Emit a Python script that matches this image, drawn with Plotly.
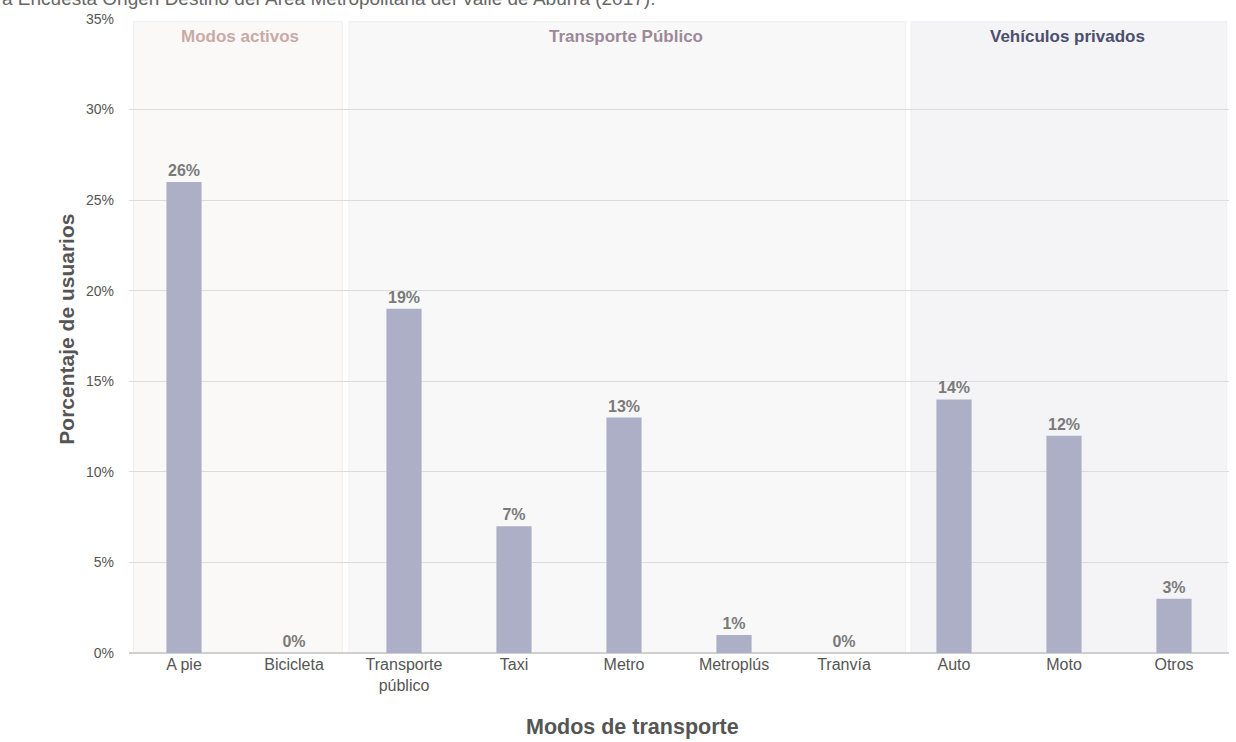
import plotly.graph_objects as go

categories = ["A pie", "Bicicleta", "Transporte<br>público", "Taxi", "Metro",
              "Metroplús", "Tranvía", "Auto", "Moto", "Otros"]
values = [26, 0, 19, 7, 13, 1, 0, 14, 12, 3]
value_labels = [f"{v}%" for v in values]
y_ticks = [0, 5, 10, 15, 20, 25, 30, 35]
y_tick_labels = [f"{t}%" for t in y_ticks]

groups = ["Modos activos", "Transporte Público", "Vehículos privados"]
group_spans = [(-0.46, 1.44), (1.5, 6.56), (6.61, 9.48)]
group_fill = ["#fbf8f8", "#f8f8f9", "#f4f4f7"]
group_text_color = ["#c9aaa7", "#9d8998", "#4b4f6d"]

title_text = "a Encuesta Origen Destino del Área Metropolitana del Valle de Aburrá (2017)."

narrow = "Liberation Sans Narrow, Arial Narrow, Liberation Sans, Arial, sans-serif"
wide = "Liberation Sans, Arial, sans-serif"

x_idx = list(range(len(categories)))

fig = go.Figure()
fig.add_trace(go.Bar(
    x=x_idx, y=values, width=0.32,
    marker=dict(color="#adafc6", line=dict(width=0)),
    text=value_labels, textposition="outside", cliponaxis=False,
    textfont=dict(family=narrow, size=16, color="#7a7a7a", weight="bold"),
    hoverinfo="skip",
))

shapes = []
for (x0, x1), fc in zip(group_spans, group_fill):
    shapes.append(dict(type="rect", xref="x", yref="y", x0=x0, x1=x1, y0=0, y1=34.85,
                       fillcolor=fc, line=dict(color="#eeeef1", width=1), layer="below"))

annotations = []
label_pos = [(-0.5 + (240 - 129) / 110), (-0.5 + (626 - 129) / 110), (-0.5 + (1067 - 129) / 110)]
for g, xc, col in zip(groups, label_pos, group_text_color):
    annotations.append(dict(text=f"<b>{g}</b>", x=xc, xref="x", y=0.972, yref="paper",
                            showarrow=False, xanchor="center", yanchor="middle",
                            font=dict(family=narrow, size=17, color=col)))

annotations.append(dict(text="<b>Porcentaje de usuarios</b>", x=(67 - 129) / 1100, xref="paper",
                        y=0.51, yref="paper", textangle=-90, showarrow=False,
                        xanchor="center", yanchor="middle",
                        font=dict(family=wide, size=21, color="#555555")))
annotations.append(dict(text="<b>Modos de transporte</b>", x=(632 - 129) / 1100, xref="paper",
                        y=-(727 - 653) / 634, yref="paper", showarrow=False,
                        xanchor="center", yanchor="middle",
                        font=dict(family=wide, size=21.5, color="#555555")))
annotations.append(dict(text=title_text, x=-129 / 1100, xref="paper",
                        y=(653 + 1) / 634, yref="paper", showarrow=False,
                        xanchor="left", yanchor="middle",
                        font=dict(family=wide, size=19, color="#666666")))

fig.update_layout(
    width=1236, height=742,
    margin=dict(l=129, r=7, t=19, b=89, autoexpand=False),
    paper_bgcolor="white", plot_bgcolor="white",
    showlegend=False,
    shapes=shapes, annotations=annotations,
    xaxis=dict(range=[-0.5, 9.5], tickmode="array", tickvals=x_idx, ticktext=categories,
               showgrid=False, zeroline=False, showline=False, ticks="",
               automargin=False,
               tickfont=dict(family=narrow, size=16, color="#555555")),
    yaxis=dict(range=[0, 35], tickmode="array", tickvals=y_ticks, ticktext=y_tick_labels,
               showgrid=True, gridcolor="#dcdcdc", gridwidth=1, zeroline=True,
               zerolinecolor="#cfcfcf", zerolinewidth=2, showline=False, ticks="",
               ticklabelstandoff=14, automargin=False,
               tickfont=dict(family=narrow, size=14, color="#555555")),
)

fig.write_html("out.html", config={"displayModeBar": False},
               post_script="document.body.style.margin='0';document.body.style.overflow='hidden';")
